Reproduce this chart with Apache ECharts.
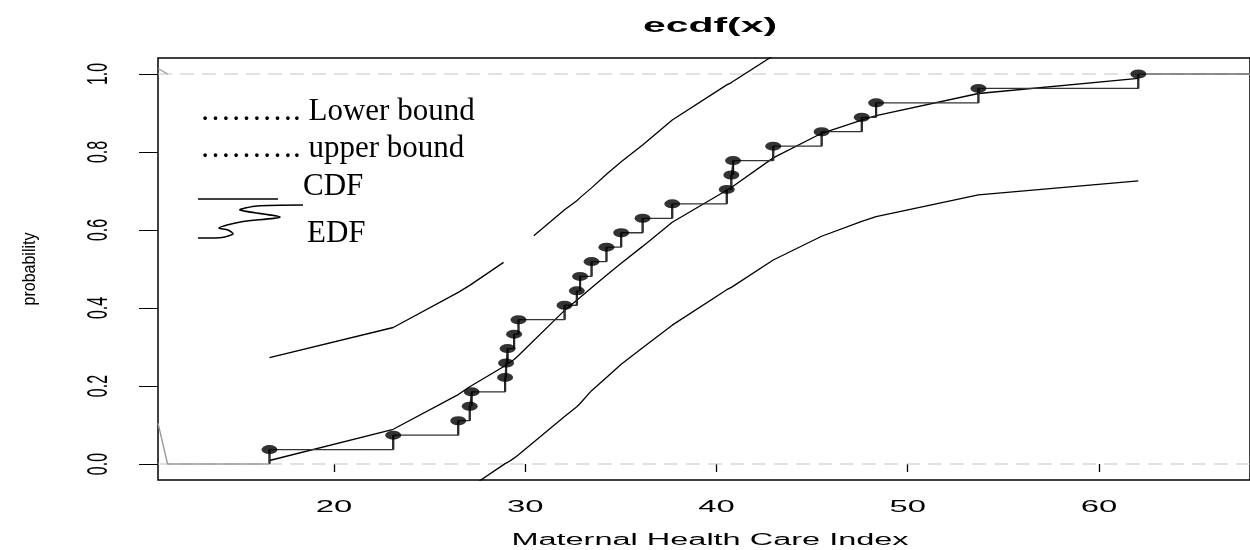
<!DOCTYPE html>
<html>
<head>
<meta charset="utf-8">
<script src="https://cdn.jsdelivr.net/npm/echarts@6/dist/echarts.min.js"></script>
<style>
  html, body { margin: 0; padding: 0; background: #fff; }
  #chart { width: 1250px; height: 550px; }
</style>
</head>
<body>
<div id="chart"></div>
<script>
// observed values (ecdf of the index, n = 27)
var EDF_X = [16.63, 23.10, 26.50, 27.10, 27.20, 28.95, 29.00, 29.08, 29.42, 29.65,
  32.06, 32.70, 32.87, 33.47, 34.25, 35.02, 36.14, 37.69, 40.54, 40.78,
  40.87, 42.97, 45.50, 47.60, 48.35, 53.70, 62.06];
var EDF_Y = [0.037, 0.074, 0.111, 0.148, 0.185, 0.222, 0.259, 0.296, 0.333, 0.370,
  0.407, 0.444, 0.481, 0.519, 0.556, 0.593, 0.630, 0.667, 0.704, 0.741,
  0.778, 0.815, 0.852, 0.889, 0.926, 0.963, 1.000];
// fitted CDF read at the same x values
var CDF_Y = [0.009, 0.089, 0.178, 0.198, 0.202, 0.252, 0.254, 0.257, 0.268, 0.278,
  0.394, 0.420, 0.427, 0.452, 0.484, 0.515, 0.558, 0.620, 0.702, 0.709,
  0.712, 0.785, 0.848, 0.882, 0.893, 0.950, 0.989];
// upper band, drawn in two pieces (there is a gap in the original)
var UPPER_A = [[16.63, 0.273], [23.10, 0.350], [26.50, 0.440], [27.10, 0.458], [27.20, 0.463], [28.87, 0.517]];
var UPPER_B = [[30.45, 0.585], [32.06, 0.652], [32.70, 0.675], [32.87, 0.683], [33.47, 0.708], [34.25, 0.743],
  [35.02, 0.775], [36.14, 0.818], [37.69, 0.882], [40.54, 0.972], [40.78, 0.978], [40.87, 0.981], [42.97, 1.047]];
var LOWER = [[27.20, -0.057], [28.95, 0.001], [29.00, 0.002], [29.08, 0.004], [29.42, 0.015], [29.65, 0.024],
  [32.06, 0.122], [32.70, 0.147], [32.87, 0.155], [33.47, 0.188], [34.25, 0.222], [35.02, 0.256],
  [36.14, 0.298], [37.69, 0.356], [40.54, 0.447], [40.78, 0.453], [40.87, 0.456], [42.97, 0.523],
  [45.50, 0.584], [47.60, 0.622], [48.35, 0.634], [53.70, 0.690], [62.06, 0.726]];
// grey bits at the edges
var TAIL_LOW = [[10.8, 0.105], [11.3, 0], [16.63, 0]];
var TAIL_TOP = [[10.8, 1.014], [11.3, 1.0]];
var TAIL_END = [[62.06, 1.0], [67.9, 1.0]];

var X_MIN = 10.8, X_MAX = 67.9, Y_MIN = -0.041, Y_MAX = 1.041;
var X_TICKS = [20, 30, 40, 50, 60];
var Y_TICKS = [0, 0.2, 0.4, 0.6, 0.8, 1.0];
var Y_TICK_LABELS = ['0.0', '0.2', '0.4', '0.6', '0.8', '1.0'];

var SANS = '"Liberation Sans", Arial, sans-serif';
var SERIF = '"Liberation Serif", "Times New Roman", serif';

var chart = echarts.init(document.getElementById('chart'));

var stepData = [[EDF_X[0], 0]];
var pts = [];
var cdf = [];
var risers = [];
EDF_X.forEach(function (x, i) {
  stepData.push([x, EDF_Y[i]]);
  pts.push([x, EDF_Y[i]]);
  cdf.push([x, CDF_Y[i]]);
  risers.push([x, i === 0 ? 0 : EDF_Y[i - 1], EDF_Y[i]]);
});

function lineSeries(data, color, width, extra) {
  var s = {
    type: 'line', data: data, symbol: 'none', silent: true, clip: true,
    lineStyle: { color: color, width: width }
  };
  for (var k in extra) s[k] = extra[k];
  return s;
}

chart.setOption({
  animation: false,
  backgroundColor: '#fff',
  grid: {
    left: 158, top: 58, width: 1105, height: 422,
    show: true, borderColor: '#000', borderWidth: 1.5, backgroundColor: 'transparent'
  },
  xAxis: {
    type: 'value', min: X_MIN, max: X_MAX,
    splitLine: { show: false }, axisLine: { show: false },
    axisTick: { show: true, customValues: X_TICKS, length: 8, lineStyle: { color: '#000', width: 1.3 } },
    axisLabel: { show: false }
  },
  yAxis: {
    type: 'value', min: Y_MIN, max: Y_MAX,
    splitLine: { show: false }, axisLine: { show: false },
    axisTick: { show: true, customValues: Y_TICKS, length: 19, lineStyle: { color: '#000', width: 1 } },
    axisLabel: { show: false }
  },
  series: [
    lineSeries([[X_MIN, 0], [X_MAX, 0]], '#c4c4c4', 1.2, { lineStyle: { color: '#c4c4c4', width: 1.2, type: [14, 8] } }),
    lineSeries([[X_MIN, 1], [X_MAX, 1]], '#c4c4c4', 1.2, { lineStyle: { color: '#c4c4c4', width: 1.2, type: [14, 8] } }),
    lineSeries(TAIL_LOW, '#9a9a9a', 1.4),
    lineSeries(TAIL_TOP, '#9a9a9a', 1.2),
    lineSeries(TAIL_END, '#6a6a6a', 1.6),
    lineSeries(UPPER_A, '#000', 1.3),
    lineSeries(UPPER_B, '#000', 1.3),
    lineSeries(LOWER, '#000', 1.3),
    lineSeries(cdf, '#000', 1.3),
    lineSeries(stepData, '#333', 1.3, { step: 'end' }),
    {
      type: 'custom', silent: true, data: risers,
      encode: { x: 0, y: [1, 2] },
      renderItem: function (params, api) {
        var a = api.coord([api.value(0), api.value(1)]);
        var b = api.coord([api.value(0), api.value(2)]);
        return { type: 'line', shape: { x1: a[0], y1: a[1], x2: b[0], y2: b[1] }, style: { stroke: '#111', lineWidth: 2.2 } };
      },
      z: 3
    },
    {
      type: 'scatter', data: pts, symbol: 'circle', symbolSize: [16, 9], silent: true,
      itemStyle: { color: '#000' }, z: 5
    }
  ]
});

// axis texts: the original picture is stretched sideways, so the text is too
function txt(x, y, text, font, opts) {
  var el = {
    type: 'text', x: x, y: y, silent: true,
    style: {
      text: text, font: font, fill: '#000',
      textAlign: opts.align || 'center', textVerticalAlign: 'middle',
      align: opts.align || 'center', verticalAlign: 'middle'
    }
  };
  if (opts.scaleX) el.scaleX = opts.scaleX;
  if (opts.scaleY) el.scaleY = opts.scaleY;
  if (opts.rotation) el.rotation = opts.rotation;
  return el;
}

var g = [];
X_TICKS.forEach(function (v) {
  var p = chart.convertToPixel({ gridIndex: 0 }, [v, 0]);
  g.push(txt(p[0], 508, String(v), '16px ' + SANS, { scaleX: 2.05 }));
});
Y_TICKS.forEach(function (v, i) {
  var p = chart.convertToPixel({ gridIndex: 0 }, [X_MIN, v]);
  g.push(txt(99, p[1], Y_TICK_LABELS[i], '16px ' + SANS, { rotation: Math.PI / 2, scaleY: 1.9 }));
});
g.push(txt(710, 26, 'ecdf(x)', 'bold 21px ' + SANS, { scaleX: 1.95 }));
g.push(txt(710, 541, 'Maternal Health Care Index', '16px ' + SANS, { scaleX: 2.03 }));
g.push(txt(30, 269, 'probability', '16px ' + SANS, { rotation: Math.PI / 2, scaleY: 1.1 }));

// hand-made legend
g.push(txt(200, 112, '\u2026\u2026\u2026. Lower bound', '31px ' + SERIF, { align: 'left' }));
g.push(txt(200, 149, '\u2026\u2026\u2026. upper bound', '31px ' + SERIF, { align: 'left' }));
g.push(txt(303, 187, 'CDF', '31px ' + SERIF, { align: 'left' }));
g.push(txt(307, 234, 'EDF', '31px ' + SERIF, { align: 'left' }));
g.push({ type: 'line', silent: true, shape: { x1: 198, y1: 199, x2: 278, y2: 199 }, style: { stroke: '#000', lineWidth: 1.3 } });
g.push({
  type: 'polyline', silent: true,
  shape: {
    points: [[198, 238], [222, 237.5], [233, 234], [228, 230], [219, 228], [227, 225], [243, 221.5],
      [280, 217], [240, 210], [257, 206], [303, 205]],
    smooth: 0.25
  },
  style: { stroke: '#000', lineWidth: 1.6, fill: null }
});

chart.setOption({ graphic: g });
</script>
</body>
</html>
